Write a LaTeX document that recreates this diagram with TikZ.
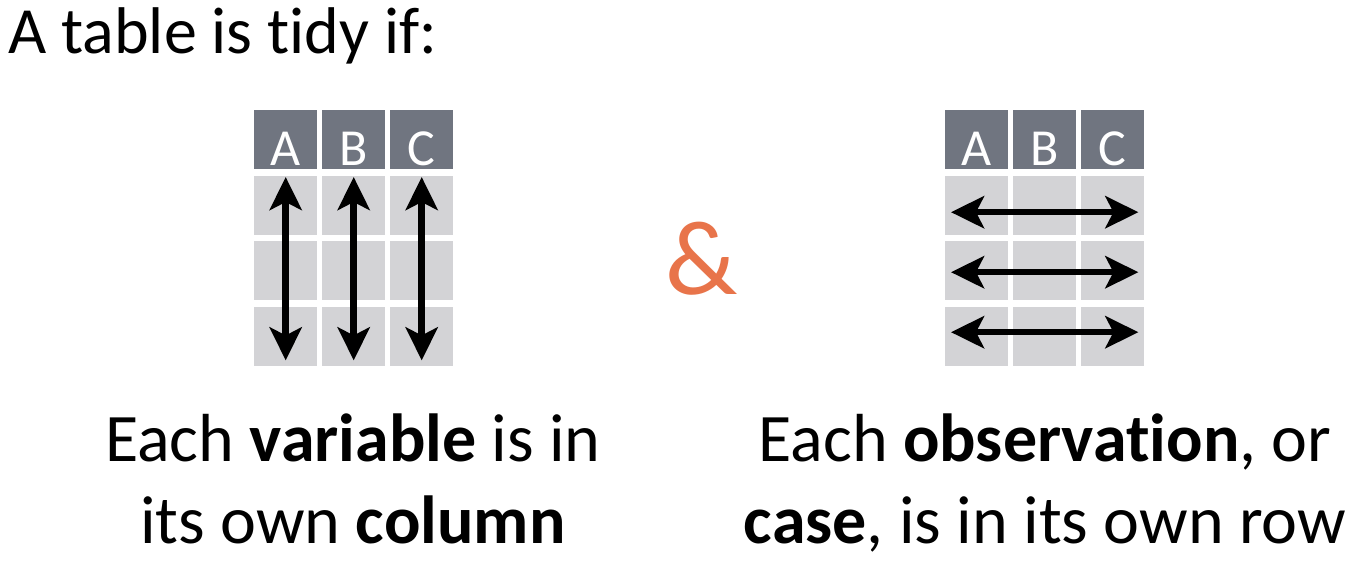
\documentclass[tikz,border=0pt]{standalone}
\usepackage{fontspec}
\setmainfont[Ligatures={NoCommon,NoContextual},Contextuals=NoAlternate]{Carlito}
\usetikzlibrary{arrows.meta,calc}
\definecolor{hdr}{HTML}{707580}
\definecolor{cellc}{HTML}{D3D3D6}
\definecolor{amp}{HTML}{E8744A}
\tikzset{
  hdrcell/.style={fill=hdr, draw=none, minimum width=63pt, minimum height=59pt, anchor=north west, inner sep=0pt},
  bodycell/.style={fill=cellc, draw=none, minimum width=63pt, minimum height=59pt, anchor=north west, inner sep=0pt},
  hdrtext/.style={text=white, font=\fontsize{52}{52}\selectfont, anchor=base, inner sep=0pt},
  dblarrow/.style={line width=6.5pt, {Stealth[length=33pt,width=32pt,inset=8pt]}-{Stealth[length=33pt,width=32pt,inset=8pt]}},
  bigtext/.style={font=\fontsize{68}{68}\selectfont, anchor=base, inner sep=0pt}
}
\begin{document}
\begin{tikzpicture}[x=1pt,y=-1pt]
\useasboundingbox (0,0) rectangle (1359,574);
% title
\node[bigtext, font=\fontsize{66}{66}\selectfont, anchor=base west] (title) at (8,53) {A table is tidy if:};
% left table
\foreach \c/\x/\t in {1/254/A,2/322/B,3/390/C}{
  \node[hdrcell] (LH-\c) at (\x,110) {};
  \node[hdrtext] (LT-\c) at ($(\x,165)+(31.5,0)$) {\t};
  \foreach \r/\y in {1/175.5,2/241,3/306.5}{
    \node[bodycell] (L-\r-\c) at (\x,\y) {};
  }
}
\foreach \c in {1,2,3}{
  \draw[dblarrow] ($(L-1-\c.north)+(0,1.5)$) -- ($(L-3-\c.south)+(0,-5.5)$);
}
% right table
\foreach \c/\x/\t in {1/945/A,2/1013/B,3/1081/C}{
  \node[hdrcell] (RH-\c) at (\x,110) {};
  \node[hdrtext] (RT-\c) at ($(\x,165)+(31.5,0)$) {\t};
  \foreach \r/\y in {1/175.5,2/241,3/306.5}{
    \node[bodycell] (R-\r-\c) at (\x,\y) {};
  }
}
\foreach \r/\o in {1/7,2/1.5,3/-4}{
  \draw[dblarrow] ($(R-\r-1.west)+(6,\o)$) -- ($(R-\r-3.east)+(-6,\o)$);
}
% ampersand
\node[text=amp, font=\fontsize{106}{106}\selectfont, anchor=base, inner sep=0pt] (and) at (702,294) {\&};
% captions
\node[bigtext] (cl1) at (353,461) {Each \textbf{variable} is in};
\node[bigtext] (cl2) at (353,543) {its own \textbf{column}};
\node[bigtext] (cr1) at (1045,461) {Each \textbf{observation}, or};
\node[bigtext] (cr2) at (1045,543) {\textbf{case}, is in its own row};
\end{tikzpicture}
\end{document}
